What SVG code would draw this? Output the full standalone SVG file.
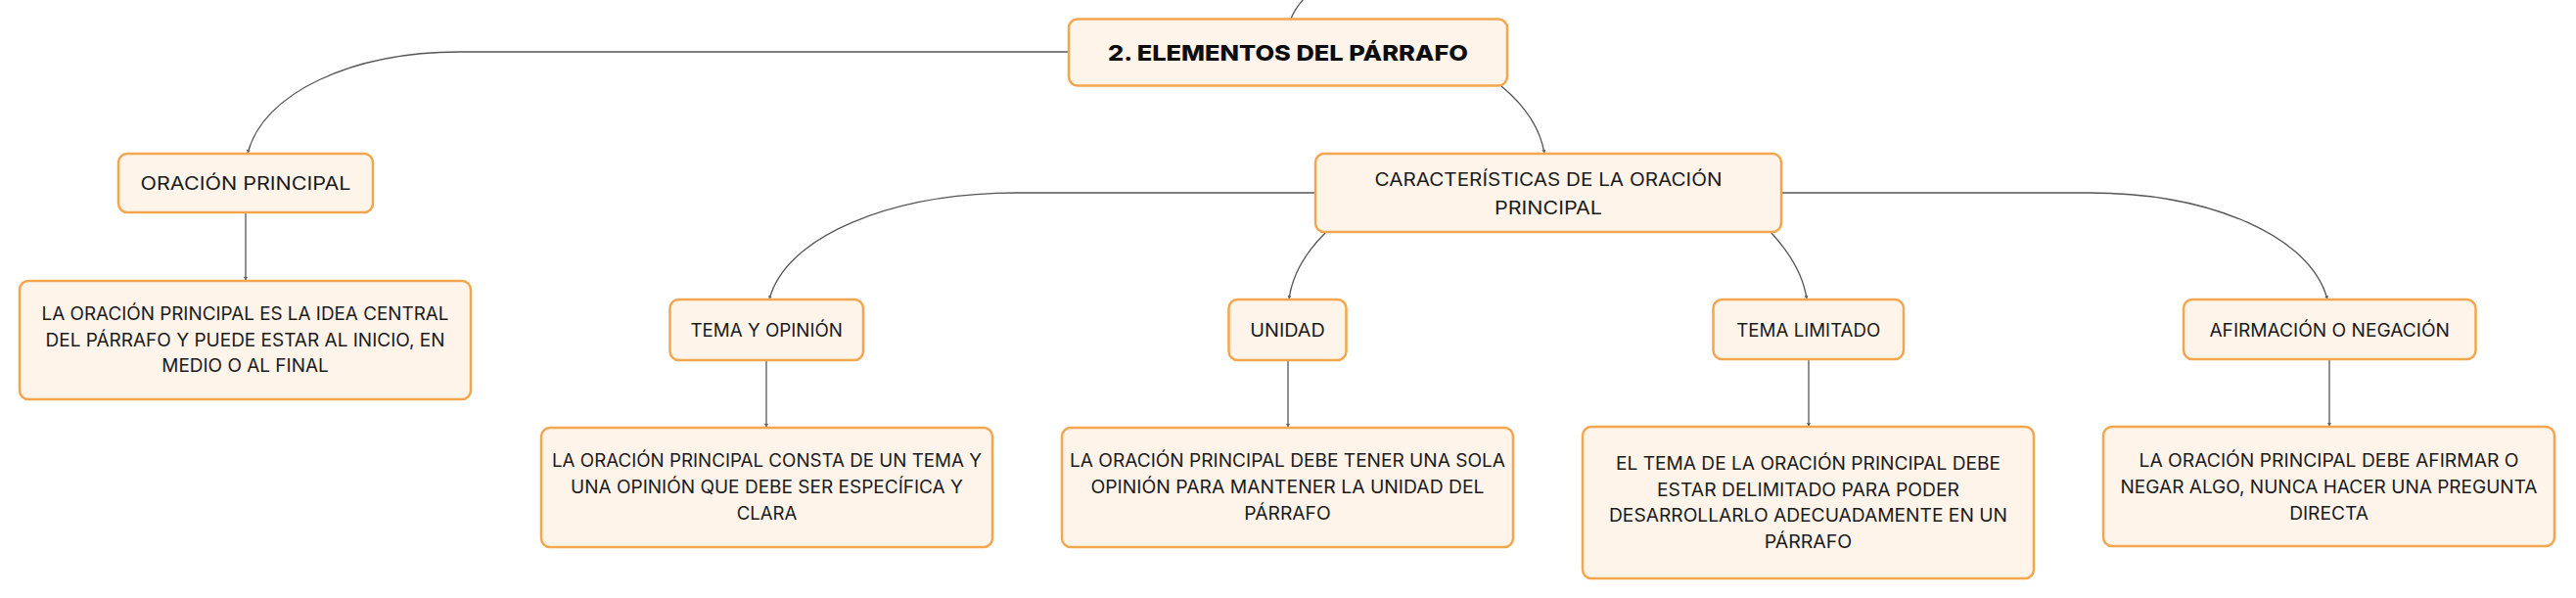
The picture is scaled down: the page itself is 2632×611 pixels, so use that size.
<svg xmlns="http://www.w3.org/2000/svg" width="2632" height="611" viewBox="0 0 2632 611">
<style>
.box{fill:#FEF4EA;stroke:#F4A64F;stroke-width:2.5}
.t{font-family:Inter,"Noto Sans","DejaVu Sans",sans-serif;font-size:18px;fill:#1a1a1a;text-anchor:middle}
.title{font-family:Inter,"Noto Sans","DejaVu Sans",sans-serif;font-size:22px;font-weight:800;fill:#0d0d0d;text-anchor:middle}
.c{fill:none;stroke:#555;stroke-width:1.3}
</style>
<defs>
<marker id="ah" viewBox="0 0 6 6" refX="6" refY="3" markerWidth="4" markerHeight="4" markerUnits="userSpaceOnUse" orient="auto">
<path d="M0,0 L6,3 L0,6 z" fill="#666"/>
</marker>
</defs>
<rect width="2632" height="611" fill="#ffffff"/>
<g id="connectors">
<path class="c" d="M1319 19 Q1324 7 1334 -3"/>
<path class="c" marker-end="url(#ah)" d="M1092 53 L470 53 C360 53 268 95 253 157"/>
<path class="c" marker-end="url(#ah)" d="M1534 88 C1558 108 1574 132 1578 157"/>
<path class="c" marker-end="url(#ah)" d="M251 217 L251 287"/>
<path class="c" marker-end="url(#ah)" d="M1344 197 L1040 197 C911 197 803 241 786 306"/>
<path class="c" marker-end="url(#ah)" d="M1354 238 C1332 260 1320 283 1317 306"/>
<path class="c" marker-end="url(#ah)" d="M1810 238 C1830 260 1843 283 1846 306"/>
<path class="c" marker-end="url(#ah)" d="M1820 197 L2134 197 C2258 197 2361 241 2378 306"/>
<path class="c" marker-end="url(#ah)" d="M783 368 L783 437"/>
<path class="c" marker-end="url(#ah)" d="M1316 368 L1316 437"/>
<path class="c" marker-end="url(#ah)" d="M1848 367 L1848 436"/>
<path class="c" marker-end="url(#ah)" d="M2380 367 L2380 436"/>
</g>
<g id="title">
<rect class="box" x="1092" y="19.5" width="448" height="68" rx="9"/>
<text class="title" x="1316" y="62.3" textLength="368" lengthAdjust="spacingAndGlyphs">2. ELEMENTOS DEL PÁRRAFO</text>
</g>
<g id="oracion-principal">
<rect class="box" x="121" y="157" width="260" height="60" rx="9"/>
<text class="t" x="251" y="194" textLength="215" lengthAdjust="spacingAndGlyphs">ORACIÓN PRINCIPAL</text>
</g>
<g id="desc-oracion">
<rect class="box" x="20" y="287" width="461" height="121" rx="9"/>
<text class="t" x="250.5" y="327" textLength="416" lengthAdjust="spacingAndGlyphs">LA ORACIÓN PRINCIPAL ES LA IDEA CENTRAL</text>
<text class="t" x="250.5" y="353.5" textLength="408" lengthAdjust="spacingAndGlyphs">DEL PÁRRAFO Y PUEDE ESTAR AL INICIO, EN</text>
<text class="t" x="250.5" y="380" textLength="170.5" lengthAdjust="spacingAndGlyphs">MEDIO O AL FINAL</text>
</g>
<g id="caracteristicas">
<rect class="box" x="1344" y="157" width="476" height="80" rx="9"/>
<text class="t" x="1582" y="190" textLength="355" lengthAdjust="spacingAndGlyphs">CARACTERÍSTICAS DE LA ORACIÓN</text>
<text class="t" x="1582" y="218.5" textLength="110" lengthAdjust="spacingAndGlyphs">PRINCIPAL</text>
</g>
<g id="tema-opinion">
<rect class="box" x="684.5" y="306" width="197.5" height="62" rx="9"/>
<text class="t" x="783.2" y="343.5" textLength="155.5" lengthAdjust="spacingAndGlyphs">TEMA Y OPINIÓN</text>
</g>
<g id="unidad">
<rect class="box" x="1255.5" y="306" width="120" height="62" rx="9"/>
<text class="t" x="1315.5" y="343.5" textLength="76.5" lengthAdjust="spacingAndGlyphs">UNIDAD</text>
</g>
<g id="tema-limitado">
<rect class="box" x="1750.5" y="306" width="194.5" height="61" rx="9"/>
<text class="t" x="1847.8" y="343.5" textLength="147" lengthAdjust="spacingAndGlyphs">TEMA LIMITADO</text>
</g>
<g id="afirmacion">
<rect class="box" x="2231" y="306" width="298.5" height="61" rx="9"/>
<text class="t" x="2380.2" y="343.5" textLength="245.5" lengthAdjust="spacingAndGlyphs">AFIRMACIÓN O NEGACIÓN</text>
</g>
<g id="desc-tema-opinion">
<rect class="box" x="553" y="437" width="461" height="122" rx="9"/>
<text class="t" x="783.5" y="477" textLength="439" lengthAdjust="spacingAndGlyphs">LA ORACIÓN PRINCIPAL CONSTA DE UN TEMA Y</text>
<text class="t" x="783.5" y="503.5" textLength="401" lengthAdjust="spacingAndGlyphs">UNA OPINIÓN QUE DEBE SER ESPECÍFICA Y</text>
<text class="t" x="783.5" y="530.5" textLength="61.7" lengthAdjust="spacingAndGlyphs">CLARA</text>
</g>
<g id="desc-unidad">
<rect class="box" x="1085" y="437" width="461" height="122" rx="9"/>
<text class="t" x="1315.5" y="477" textLength="445" lengthAdjust="spacingAndGlyphs">LA ORACIÓN PRINCIPAL DEBE TENER UNA SOLA</text>
<text class="t" x="1315.5" y="503.5" textLength="402" lengthAdjust="spacingAndGlyphs">OPINIÓN PARA MANTENER LA UNIDAD DEL</text>
<text class="t" x="1315.5" y="530.5" textLength="88.4" lengthAdjust="spacingAndGlyphs">PÁRRAFO</text>
</g>
<g id="desc-tema-limitado">
<rect class="box" x="1617" y="436" width="461" height="155" rx="9"/>
<text class="t" x="1847.5" y="479.5" textLength="393" lengthAdjust="spacingAndGlyphs">EL TEMA DE LA ORACIÓN PRINCIPAL DEBE</text>
<text class="t" x="1847.5" y="506.5" textLength="309" lengthAdjust="spacingAndGlyphs">ESTAR DELIMITADO PARA PODER</text>
<text class="t" x="1847.5" y="533" textLength="407" lengthAdjust="spacingAndGlyphs">DESARROLLARLO ADECUADAMENTE EN UN</text>
<text class="t" x="1847.5" y="560" textLength="89.7" lengthAdjust="spacingAndGlyphs">PÁRRAFO</text>
</g>
<g id="desc-afirmacion">
<rect class="box" x="2149" y="436" width="461" height="122" rx="9"/>
<text class="t" x="2379.5" y="477" textLength="388" lengthAdjust="spacingAndGlyphs">LA ORACIÓN PRINCIPAL DEBE AFIRMAR O</text>
<text class="t" x="2379.5" y="503.5" textLength="426" lengthAdjust="spacingAndGlyphs">NEGAR ALGO, NUNCA HACER UNA PREGUNTA</text>
<text class="t" x="2379.5" y="530.5" textLength="80.7" lengthAdjust="spacingAndGlyphs">DIRECTA</text>
</g>
</svg>
